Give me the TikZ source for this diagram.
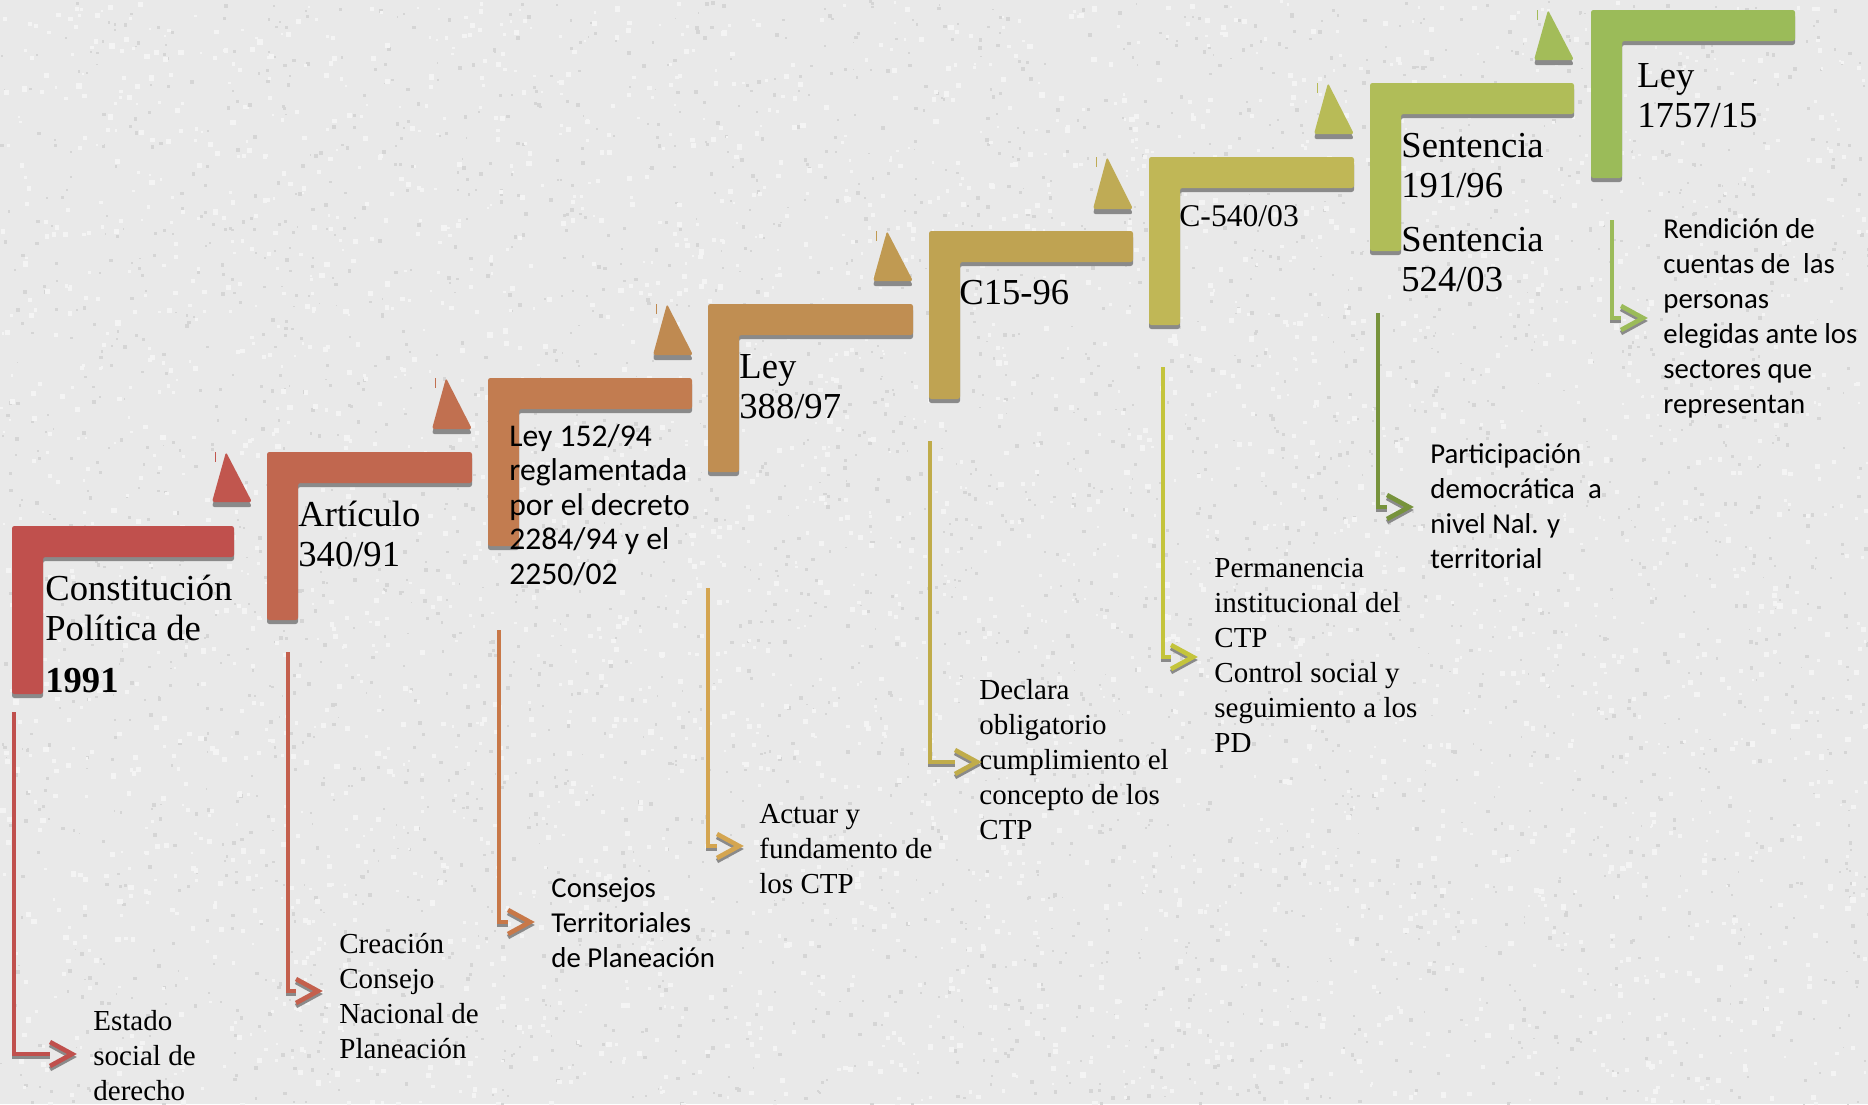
\documentclass[tikz,border=0pt]{standalone}
\usepackage{fontspec}
\setmainfont{Liberation Serif}
\newfontfamily\carlito{Carlito}
\definecolor{bgcol}{HTML}{E9E9E9}
\definecolor{speckdark}{HTML}{D5D5D5}
\definecolor{specklight}{HTML}{F4F4F4}
\definecolor{cL1}{HTML}{C0504D}
\definecolor{cT1}{HTML}{C1564E}
\definecolor{cL2}{HTML}{C1674F}
\definecolor{cT2}{HTML}{C17050}
\definecolor{cL3}{HTML}{C27C50}
\definecolor{cT3}{HTML}{BF8A51}
\definecolor{cL4}{HTML}{C08E52}
\definecolor{cT4}{HTML}{C09A52}
\definecolor{cL5}{HTML}{BFA352}
\definecolor{cT5}{HTML}{BFAB55}
\definecolor{cL6}{HTML}{C0B756}
\definecolor{cT6}{HTML}{B8BB57}
\definecolor{cL7}{HTML}{B0BD58}
\definecolor{cT7}{HTML}{A3BC59}
\definecolor{cL8}{HTML}{9BBB59}
\definecolor{cA1}{HTML}{C0504D}
\definecolor{cA2}{HTML}{C4604D}
\definecolor{cA3}{HTML}{C87848}
\definecolor{cA4}{HTML}{D4A550}
\definecolor{cA5}{HTML}{C0AC4A}
\definecolor{cA6}{HTML}{C4C43C}
\definecolor{cA7}{HTML}{77933C}
\definecolor{cA8}{HTML}{9BBB59}
\definecolor{shadowcol}{HTML}{8A8A8A}
\newcommand\drawconn[2]{%
  \draw[connline, shadowcol] ([yshift=-1.5pt]#1s) |- ([xshift=-11pt,yshift=-1.5pt]#1e);
  \draw[connline, shadowcol] ([shift={(-22,-12)},yshift=-1.5pt]#1e) -- ([yshift=-1.5pt]#1e) -- ([shift={(-22,12)},yshift=-1.5pt]#1e);
  \draw[connline, #2] (#1s) |- ([xshift=-11pt]#1e);
  \draw[connline, #2] ([shift={(-22,-12)}]#1e) -- (#1e) -- ([shift={(-22,12)}]#1e);
}
\begin{document}
\begin{tikzpicture}[x=0.5pt,y=-0.5pt,
  title/.style={anchor=base west, inner sep=0pt, font=\fontsize{18.3}{20}\selectfont},
  titlesm/.style={anchor=base west, inner sep=0pt, font=\fontsize{15.8}{20}\selectfont},
  titlesans/.style={anchor=base west, inner sep=0pt, font=\carlito\fontsize{15.8}{17.3}\selectfont},
  desc/.style={anchor=base west, inner sep=0pt, font=\fontsize{14.5}{17.5}\selectfont},
  descsans/.style={anchor=base west, inner sep=0pt, font=\carlito\fontsize{14.4}{17.5}\selectfont},
  connline/.style={line width=2.3pt, line join=miter, line cap=butt},
  lshadow/.style={fill=shadowcol, rounded corners=1.2pt},
  lfill/.style={fill=#1, rounded corners=1.2pt}]
\useasboundingbox (0,0) rectangle (1868,1104);
\fill[bgcol] (0,0) rectangle (1868,1104);

% paper texture (fine speckles)
\pgfmathsetseed{7}
\foreach \i in {1,...,3500}{
  \pgfmathsetmacro\px{rnd*1868}\pgfmathsetmacro\py{rnd*1104}\pgfmathsetmacro\pr{1.5+rnd*2.5}
  \fill[speckdark] (\px,\py) rectangle ++(\pr,\pr);
}
\foreach \i in {1,...,3500}{
  \pgfmathsetmacro\px{rnd*1868}\pgfmathsetmacro\py{rnd*1104}\pgfmathsetmacro\pr{2+rnd*3.5}
  \fill[specklight] (\px,\py) rectangle ++(\pr,\pr);
}

% L-shaped steps
\foreach \x/\y/\w/\c in {12/526/222/cL1, 267/452/205/cL2, 488/378/204/cL3, 708/304/205/cL4,
                         929/231/204/cL5, 1149/157/205/cL6, 1370/83/204/cL7, 1591/10/204/cL8}{
  \fill[lshadow] (\x,\y+4) -- (\x+\w,\y+4) -- (\x+\w,\y+35) -- (\x+31,\y+35) -- (\x+31,\y+172) -- (\x,\y+172) -- cycle;
  \fill[lfill=\c] (\x,\y) -- (\x+\w,\y) -- (\x+\w,\y+31) -- (\x+31,\y+31) -- (\x+31,\y+168) -- (\x,\y+168) -- cycle;
}

% triangles
\foreach \r/\by/\ay/\c in {252/502/452/cT1, 472/429/378/cT2, 693/355/304/cT3, 913/281/231/cT4,
                           1133/209/157/cT5, 1354/134/83/cT6, 1574/60/10/cT7}{
  \fill[lshadow] (\r-40,\by+5) -- (\r,\by+5) -- (\r-26,\ay+5) -- cycle;
  \fill[lfill=\c] (\r-40,\by) -- (\r,\by) -- (\r-26,\ay) -- cycle;
  \draw[\c, line width=0.5pt] (\r-37,\ay) -- (\r-37,\ay+10);
}

% titles
\node[title] (t1) at (45,600) {\vtop{\hbox{Constitución}\hbox{Política de}\vskip6pt\hbox{\bfseries 1991}}};
\node[title] (t2) at (298,526) {\vtop{\hbox{Artículo}\hbox{340/91}}};
\node[titlesans] (t3) at (509,446) {\vtop{\hbox{Ley 152/94}\hbox{reglamentada}\hbox{por el decreto}\hbox{2284/94 y el}\hbox{2250/02}}};
\node[title] (t4) at (739,378) {\vtop{\hbox{Ley}\hbox{388/97}}};
\node[title] (t5) at (959,304) {C15-96};
\node[titlesm] (t6) at (1179,226) {C-540/03};
\node[title] (t7) at (1401,157) {\vtop{\hbox{Sentencia}\hbox{191/96}\vskip7pt\hbox{Sentencia}\hbox{524/03}}};
\node[title] (t8) at (1637,87) {\vtop{\hbox{Ley}\hbox{1757/15}}};

% descriptions
\node[desc] (d1) at (93,1030) {\vtop{\hbox{Estado}\hbox{social de}\hbox{derecho}}};
\node[desc] (d2) at (339,953) {\vtop{\hbox{Creación}\hbox{Consejo}\hbox{Nacional de}\hbox{Planeación}}};
\node[descsans] (d3) at (551,897) {\vtop{\hbox{Consejos}\hbox{Territoriales}\hbox{de Planeación}}};
\node[desc] (d4) at (759,823) {\vtop{\hbox{Actuar y}\hbox{fundamento de}\hbox{los CTP}}};
\node[desc] (d5) at (979,699) {\vtop{\hbox{Declara}\hbox{obligatorio}\hbox{cumplimiento el}\hbox{concepto de los}\hbox{CTP}}};
\node[desc] (d6) at (1214,577) {\vtop{\hbox{Permanencia}\hbox{institucional del}\hbox{CTP}\hbox{Control social y}\hbox{seguimiento a los}\hbox{PD}}};
\node[descsans] (d7) at (1430,463) {\vtop{\hbox{Participación}\hbox{democrática\ \ a}\hbox{nivel Nal. y}\hbox{territorial}}};
\node[descsans] (d8) at (1663,238) {\vtop{\hbox{Rendición de}\hbox{cuentas de\ \ las}\hbox{personas}\hbox{elegidas ante los}\hbox{sectores que}\hbox{representan}}};

% connectors
\coordinate (a1s) at (14,712);   \coordinate (a1e) at (72,1054);
\coordinate (a2s) at (288,652);  \coordinate (a2e) at (318,991);
\coordinate (a3s) at (499,630);  \coordinate (a3e) at (530,922);
\coordinate (a4s) at (708,588);  \coordinate (a4e) at (739,846);
\coordinate (a5s) at (930,441);  \coordinate (a5e) at (977,762);
\coordinate (a6s) at (1163,367); \coordinate (a6e) at (1193,657);
\coordinate (a7s) at (1378,313); \coordinate (a7e) at (1409,507);
\coordinate (a8s) at (1612,220); \coordinate (a8e) at (1643,318);
\drawconn{a1}{cA1}
\drawconn{a2}{cA2}
\drawconn{a3}{cA3}
\drawconn{a4}{cA4}
\drawconn{a5}{cA5}
\drawconn{a6}{cA6}
\drawconn{a7}{cA7}
\drawconn{a8}{cA8}
\end{tikzpicture}
\end{document}
